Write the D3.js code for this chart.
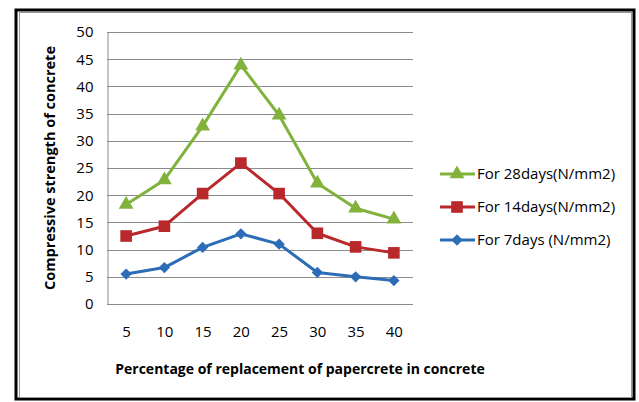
<!DOCTYPE html>
<html>
<head>
<meta charset="utf-8">
<script src="https://cdn.jsdelivr.net/npm/d3@7"></script>
<style>
  body { margin: 0; background: #fff; }
  text { font-family: "Open Sans", "Noto Sans", sans-serif; fill: #000; }
</style>
</head>
<body>
<div id="chart"></div>
<script>
// data
const percentages = [5, 10, 15, 20, 25, 30, 35, 40];
const days28 = [18.3, 22.8, 32.7, 43.9, 34.7, 22.2, 17.6, 15.6];
const days14 = [12.5, 14.3, 20.3, 25.9, 20.3, 13.0, 10.5, 9.4];
const days7 = [5.5, 6.7, 10.4, 12.9, 11.0, 5.8, 5.0, 4.3];
const yTicks = [0, 5, 10, 15, 20, 25, 30, 35, 40, 45, 50];
const seriesNames = ["For 28days(N/mm2)", "For 14days(N/mm2)", "For 7days (N/mm2)"];

const series = [
  {name: seriesNames[0], values: days28, color: "#80b23c", symbol: d3.symbolTriangle, size: 95, rot: 0},
  {name: seriesNames[1], values: days14, color: "#b9282a", symbol: d3.symbolSquare, size: 135, rot: 0},
  {name: seriesNames[2], values: days7, color: "#2d6db7", symbol: d3.symbolSquare, size: 64, rot: 45}
];

const width = 639, height = 402;
const plot = {left: 107, right: 413, top: 32, bottom: 304};

const svg = d3.select("#chart").append("svg")
  .attr("width", width)
  .attr("height", height);

// outer frame: thick black border with a thin grey inner line
svg.append("rect")
  .attr("x", 16).attr("y", 10)
  .attr("width", 618).attr("height", 389)
  .attr("fill", "none").attr("stroke", "#000").attr("stroke-width", 3);
svg.append("rect")
  .attr("x", 19.5).attr("y", 12.5)
  .attr("width", 612).attr("height", 385)
  .attr("fill", "none").attr("stroke", "#999").attr("stroke-width", 1);

const x = d3.scalePoint()
  .domain(percentages)
  .range([plot.left, plot.right])
  .padding(0.5);

const y = d3.scaleLinear()
  .domain([0, 50])
  .range([plot.bottom, plot.top]);

// gridlines
svg.append("g")
  .selectAll("line")
  .data(yTicks)
  .join("line")
  .attr("x1", plot.left).attr("x2", plot.right)
  .attr("y1", d => Math.round(y(d)) + 0.5).attr("y2", d => Math.round(y(d)) + 0.5)
  .attr("stroke", "#8c8c8c").attr("stroke-width", 1);

// y axis
const yAxis = d3.axisLeft(y).tickValues(yTicks).tickSize(0).tickPadding(14);
svg.append("g")
  .attr("transform", `translate(${plot.left + 0.5},0)`)
  .call(yAxis)
  .call(g => g.select(".domain").attr("stroke", "#8c8c8c"))
  .call(g => g.selectAll(".tick text")
    .attr("font-size", 15)
    .attr("font-family", "Open Sans, sans-serif")
    .attr("fill", "#000"));

// x axis (labels only)
const xAxis = d3.axisBottom(x).tickSize(0).tickPadding(22);
svg.append("g")
  .attr("transform", `translate(0,${plot.bottom + 0.5})`)
  .call(xAxis)
  .call(g => g.select(".domain").remove())
  .call(g => g.selectAll(".tick text")
    .attr("font-size", 15)
    .attr("font-family", "Open Sans, sans-serif")
    .attr("fill", "#000"));

// axis titles
svg.append("text")
  .attr("x", 300).attr("y", 374)
  .attr("text-anchor", "middle")
  .attr("font-size", 14)
  .attr("font-weight", "bold")
  .text("Percentage of replacement of papercrete in concrete");

svg.append("text")
  .attr("transform", `translate(55,${(plot.top + plot.bottom) / 2}) rotate(-90)`)
  .attr("text-anchor", "middle")
  .attr("font-size", 14.5)
  .attr("font-weight", "bold")
  .text("Compressive strength  of concrete");

// lines and markers
const line = d3.line()
  .x((d, i) => x(percentages[i]))
  .y(d => y(d));

const seriesG = svg.append("g")
  .selectAll("g")
  .data(series)
  .join("g");

seriesG.append("path")
  .attr("d", d => line(d.values))
  .attr("fill", "none")
  .attr("stroke", d => d.color)
  .attr("stroke-width", 3)
  .attr("stroke-linejoin", "round");

seriesG.each(function (s) {
  d3.select(this).selectAll(".marker")
    .data(s.values)
    .join("path")
    .attr("class", "marker")
    .attr("d", d3.symbol().type(s.symbol).size(s.size))
    .attr("transform", (d, i) => `translate(${x(percentages[i])},${y(d)}) rotate(${s.rot})`)
    .attr("fill", s.color);
});

// legend
const legend = svg.append("g")
  .selectAll("g")
  .data(series)
  .join("g")
  .attr("transform", (d, i) => `translate(440,${174 + i * 33})`);

legend.append("line")
  .attr("x1", 0).attr("x2", 35)
  .attr("stroke", d => d.color)
  .attr("stroke-width", 3);

legend.append("path")
  .attr("d", d => d3.symbol().type(d.symbol).size(d.size)())
  .attr("transform", d => `translate(17,0) rotate(${d.rot})`)
  .attr("fill", d => d.color);

legend.append("text")
  .attr("x", 37)
  .attr("dy", "0.35em")
  .attr("font-size", 15)
  .text(d => d.name);
</script>
</body>
</html>
